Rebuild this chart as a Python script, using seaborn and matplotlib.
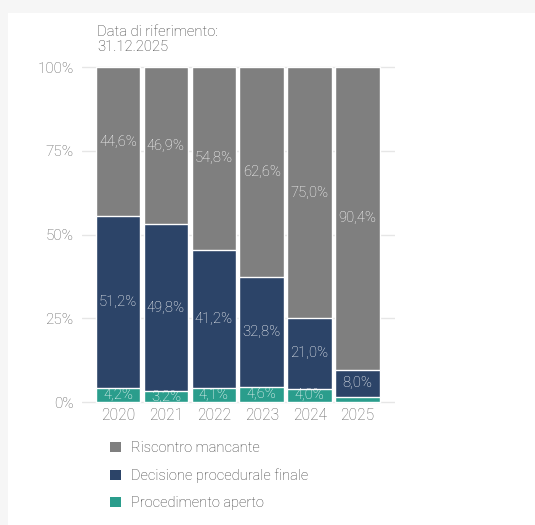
import matplotlib
matplotlib.use("Agg")
import matplotlib.pyplot as plt
from matplotlib.patches import Rectangle, Patch
import seaborn as sns
import pandas as pd
import numpy as np

years = ["2020", "2021", "2022", "2023", "2024", "2025"]
procedimento_aperto = [4.2, 3.2, 4.1, 4.6, 4.0, 1.6]
decisione_finale = [51.2, 49.8, 41.2, 32.8, 21.0, 8.0]
riscontro_mancante = [44.6, 46.9, 54.8, 62.6, 75.0, 90.4]
series_names = ["Riscontro mancante", "Decisione procedurale finale", "Procedimento aperto"]
colors = {"Riscontro mancante": "#7f7f7f",
          "Decisione procedurale finale": "#2c4468",
          "Procedimento aperto": "#2a9d8c"}
yticks = [0, 25, 50, 75, 100]
ytick_labels = ["0%", "25%", "50%", "75%", "100%"]
title = "Data di riferimento:\n31.12.2025"

sns.set_theme(style="white")
plt.rcParams["font.family"] = ["Roboto", "DejaVu Sans"]

W, H = 535, 525
fig = plt.figure(figsize=(W / 100, H / 100), dpi=100)
fig.patch.set_facecolor("#f6f6f6")
fig.add_artist(Rectangle((8 / W, 0), 1, (H - 13) / H, transform=fig.transFigure,
                         facecolor="white", edgecolor="none", zorder=-10))

ymin, ymax = -1, 101
ppu = (402 - 67) / 100
ax_bot = 1 - (402 + ppu * (0 - ymin)) / H
ax_top = 1 - (67 - ppu * (ymax - 100)) / H
ax = fig.add_axes([82 / W, ax_bot, (395 - 82) / W, ax_top - ax_bot])
ax.set_facecolor("none")

df = pd.DataFrame({"year": years,
                   "Procedimento aperto": procedimento_aperto,
                   "Decisione procedurale finale": decisione_finale,
                   "Riscontro mancante": riscontro_mancante})
g = np.array(procedimento_aperto)
b = np.array(decisione_finale)
r = np.array(riscontro_mancante)
df["c_green"] = g
df["c_blue"] = g + b
df["c_gray"] = g + b + r

for col, name in [("c_gray", "Riscontro mancante"),
                  ("c_blue", "Decisione procedurale finale"),
                  ("c_green", "Procedimento aperto")]:
    sns.barplot(data=df, x="year", y=col, color=colors[name], width=0.93,
                edgecolor="white", linewidth=1.0, saturation=1, ax=ax, zorder=3)

# labels
for i in range(len(years)):
    segs = [(0, g[i]), (g[i], b[i]), (g[i] + b[i], r[i])]
    for bottom, val in segs:
        if val < 2:
            continue
        ax.text(i, bottom + val / 2, f"{val:.1f}%".replace(".", ","), ha="center", va="center",
                color="white", fontsize=10.6, fontweight="light", zorder=5)

ax.set_xlim(-0.75, 5.78)
ax.set_ylim(ymin, ymax)
ax.set_yticks(yticks)
ax.set_yticklabels(ytick_labels)
ax.set_xlabel("")
ax.set_ylabel("")
ax.yaxis.grid(True, color="#e6e6e6", linewidth=1, zorder=0)
ax.set_axisbelow(True)
for s in ax.spines.values():
    s.set_visible(False)
ax.tick_params(axis="y", length=0, pad=6, labelsize=11, labelcolor="#5e5e5e")
ax.tick_params(axis="x", length=0, pad=2, labelsize=11.2, labelcolor="#5e5e5e")
for t in ax.get_yticklabels() + ax.get_xticklabels():
    t.set_fontweight("light")

fig.text(97 / W, 1 - 25 / H, title, ha="left", va="top", fontsize=10.6, color="#3a3a3a",
         fontweight="light", linespacing=1.05)

handles = [Patch(facecolor=colors[n], edgecolor="none") for n in series_names]
fig.legend(handles, series_names, loc="upper left", bbox_to_anchor=(97 / W, 1 - 428 / H),
           frameon=False, handlelength=0.75, handleheight=0.75,
           handletextpad=0.65, labelspacing=0.9, labelcolor="#3a3a3a",
           prop={"weight": "light", "size": 10.5})

fig.savefig("out.png", dpi=100, facecolor=fig.get_facecolor())
